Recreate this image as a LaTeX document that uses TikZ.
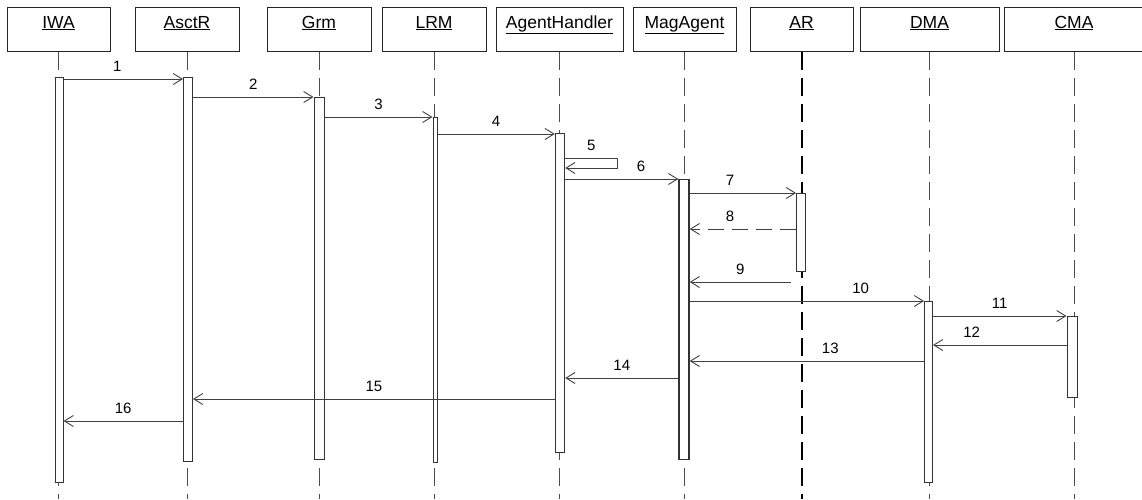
\documentclass[tikz,border=0pt]{standalone}
\usepackage{fontspec}
\setmainfont{Liberation Sans}
\usetikzlibrary{arrows.meta}

\begin{document}
\begin{tikzpicture}[
        x=1pt, y=-1pt,
        obj/.style={rectangle, draw=black!85, line width=1pt, minimum height=44pt, inner sep=0pt, font=\fontsize{17.5}{19}\selectfont, text height=13pt, text depth=15pt},
        lifeline/.style={draw=black!70, line width=0.9pt, dash pattern=on 18pt off 8pt},
        bar/.style={rectangle, draw=black!80, fill=white, line width=1pt, inner sep=0pt, minimum width=9pt, anchor=north},
        msg/.style={draw=black!75, line width=0.9pt, -{Straight Barb[length=9pt, width=11pt]}},
        reply/.style={msg, dash pattern=on 16pt off 8pt},
        lbl/.style={font=\fontsize{15}{17}\selectfont, above=7pt, inner sep=0pt}
    ]
        \useasboundingbox (0,0) rectangle (1142,499);

        % Objects
        \node[obj, minimum width=103pt] (iwa) at (58.5,29) {\underline{IWA}};
        \node[obj, minimum width=104pt] (asctr) at (187,29) {\underline{AsctR}};
        \node[obj, minimum width=104pt] (grm) at (319,29) {\underline{Grm}};
        \node[obj, minimum width=104pt] (lrm) at (434,29) {\underline{LRM}};
        \node[obj, minimum width=127pt] (ah) at (559.5,29) {\underline{AgentHandler}};
        \node[obj, minimum width=103pt] (mag) at (684.5,29) {\underline{MagAgent}};
        \node[obj, minimum width=103pt] (ar) at (801.5,29) {\underline{AR}};
        \node[obj, minimum width=139pt] (dma) at (929.5,29) {\underline{DMA}};
        \node[obj, minimum width=140pt] (cma) at (1074,29) {\underline{CMA}};

        % Lifelines
        \foreach \o in {iwa, asctr, grm, lrm, ah, mag, dma, cma}
            \draw[lifeline] (\o.south) -- (\o.south |- 0,499);
        \draw[lifeline, draw=black, line width=2pt] (ar.south) -- (ar.south |- 0,499);

        % Activations
        \node[bar, minimum width=8pt, minimum height=405pt] (iwaBar) at (59,77) {};
        \node[bar, minimum height=384pt] (asctrBar) at (188,77) {};
        \node[bar, minimum width=10pt, minimum height=362pt] (grmBar) at (319,97) {};
        \node[bar, minimum width=4pt, minimum height=345pt] (lrmBar) at (435,117) {};
        \node[bar, line width=1.4pt, minimum height=319pt] (ahBar) at (560,133) {};
        \node[bar, line width=1.4pt, minimum width=10pt, minimum height=280pt] (magBar) at (684,179) {};
        \node[bar, minimum height=78pt] (arBar) at (801,193) {};
        \node[bar, minimum width=8pt, minimum height=181pt] (dmaBar) at (928.5,301) {};
        \node[bar, minimum width=10pt, minimum height=81pt] (cmaBar) at (1072,316) {};
        \coordinate (arFree) at (791,282);

        % Messages
        \draw[msg] (iwaBar.east |- 0,79) -- (asctrBar.west |- 0,79) node[lbl, pos=0.45] {1};
        \draw[msg] (asctrBar.east |- 0,97) -- (grmBar.west |- 0,97) node[lbl, midway] {2};
        \draw[msg] (grmBar.east |- 0,117) -- (lrmBar.west |- 0,117) node[lbl, midway] {3};
        \draw[msg] (lrmBar.east |- 0,134) -- (ahBar.west |- 0,134) node[lbl, midway] {4};
        \draw[msg] (ahBar.east |- 0,158) -- ++(52,0) node[lbl, midway] {5} -- ++(0,10) -- (ahBar.east |- 0,168);
        \draw[msg] (ahBar.east |- 0,179) -- (magBar.west |- 0,179) node[lbl, pos=0.67] {6};
        \draw[msg] (magBar.east |- 0,193) -- (arBar.west |- 0,193) node[lbl, pos=0.38] {7};
        \draw[reply] (arBar.west |- 0,229) -- (magBar.east |- 0,229) node[lbl, pos=0.62] {8};
        \draw[msg] (arFree) -- (magBar.east |- arFree) node[lbl, midway] {9};
        \draw[msg] (magBar.east |- 0,301) -- (dmaBar.west |- 0,301) node[lbl, pos=0.73] {10};
        \draw[msg] (dmaBar.east |- 0,316) -- (cmaBar.west |- 0,316) node[lbl, midway] {11};
        \draw[msg] (cmaBar.west |- 0,345) -- (dmaBar.east |- 0,345) node[lbl, pos=0.71] {12};
        \draw[msg] (dmaBar.west |- 0,361) -- (magBar.east |- 0,361) node[lbl, pos=0.4] {13};
        \draw[msg] (magBar.west |- 0,378) -- (ahBar.east |- 0,378) node[lbl, midway] {14};
        \draw[msg] (ahBar.west |- 0,399) -- (asctrBar.east |- 0,399) node[lbl, midway] {15};
        \draw[msg] (asctrBar.west |- 0,421) -- (iwaBar.east |- 0,421) node[lbl, midway] {16};

    \end{tikzpicture}
\end{document}
